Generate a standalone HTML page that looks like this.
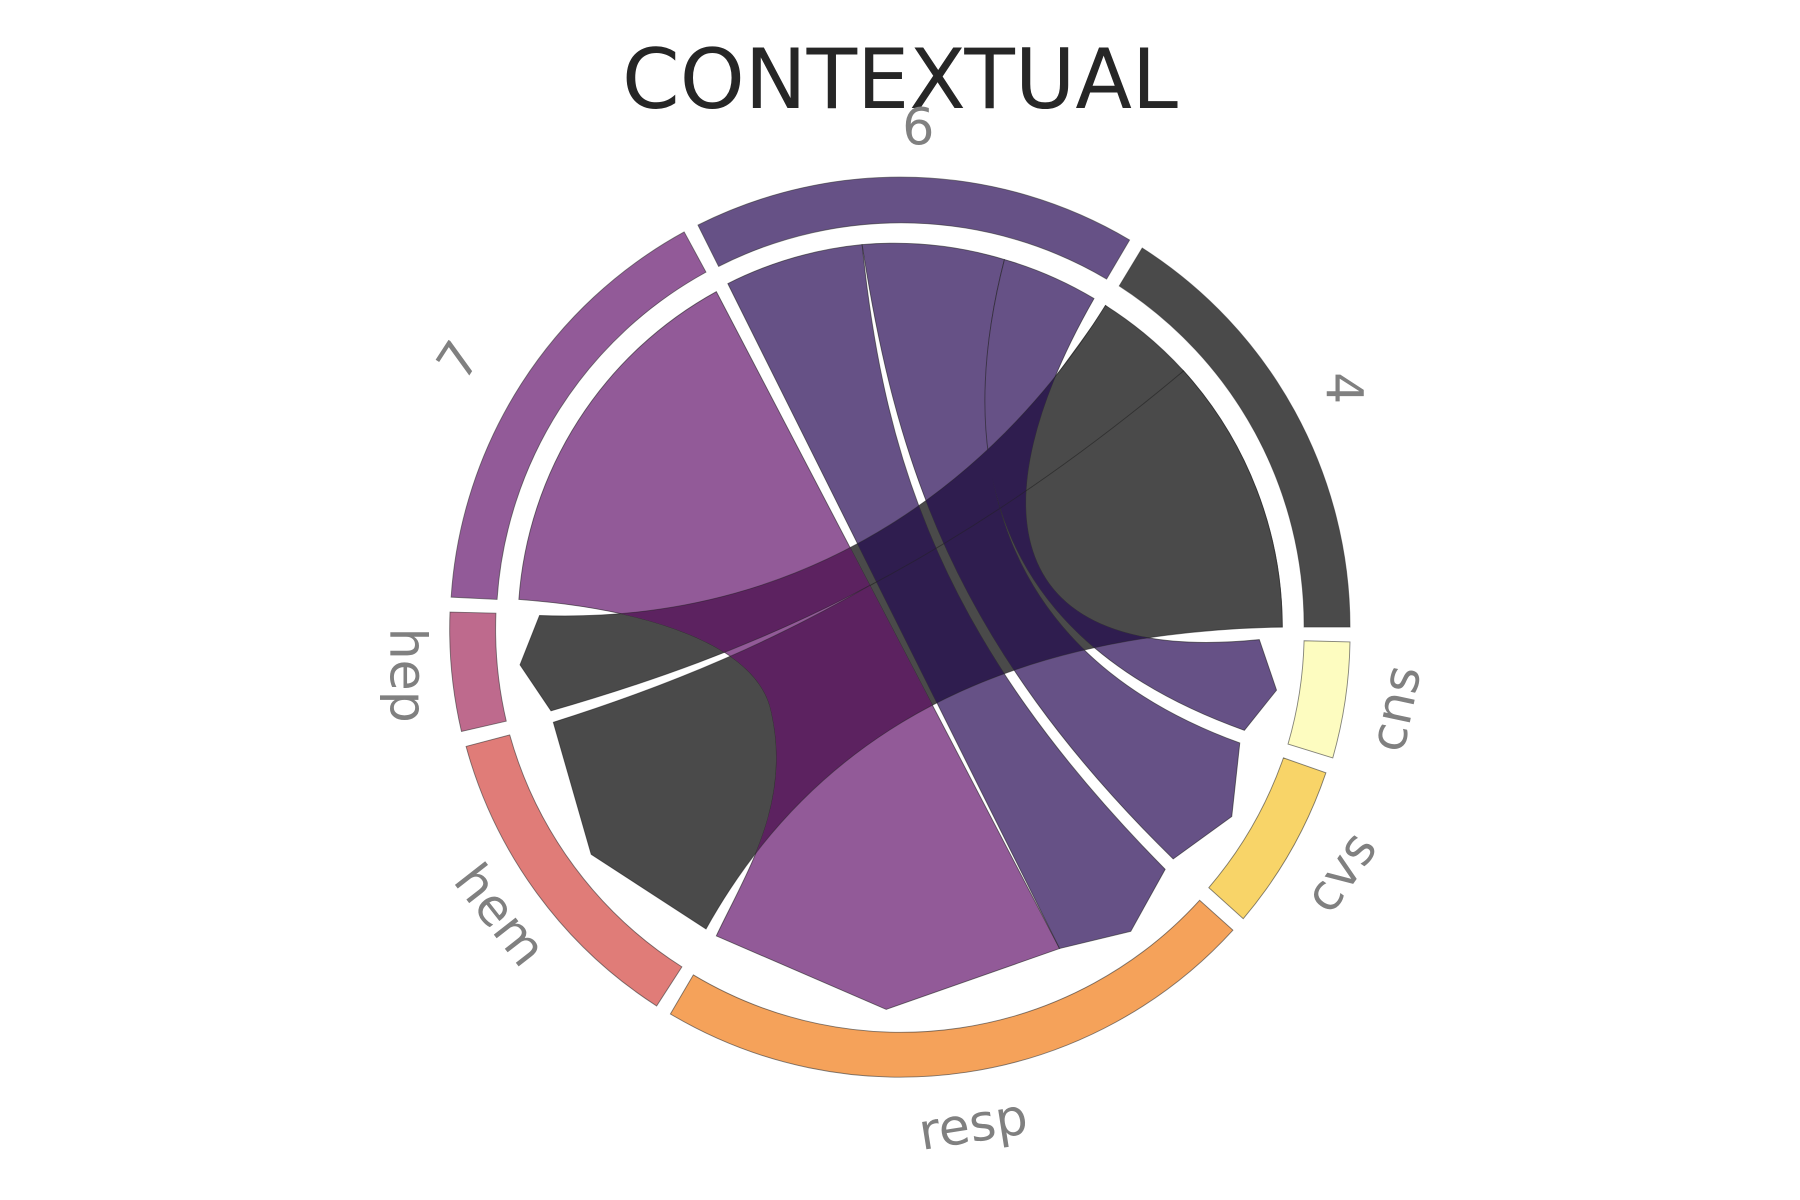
<!DOCTYPE html>
<html><head><meta charset="utf-8"><style>html,body{margin:0;padding:0;background:#fff}svg{display:block}</style></head>
<body>
<svg width="1800" height="1200" viewBox="0 0 1568 1045" preserveAspectRatio="none" xmlns="http://www.w3.org/2000/svg" font-family="DejaVu Sans, Liberation Sans, sans-serif">
<defs>
<path id="c7" d="M624,254 A333,333 0 0 0 452,522 C560,530 660,560 672,620 C690,700 650,760 624,815 L772,879 L923,826 L624,254 Z"/>
<path id="c6a" d="M634,247 A333,333 0 0 1 751,213 C770,400 820,560 1015,757 L985,811 L923,826 Z"/>
<path id="c6b" d="M751,213 A333,333 0 0 1 875,226 C840,360 840,560 1080,647 L1073,711 L1022,748 C830,560 780,400 751,213 Z"/>
<path id="c6c" d="M875,226 A333,333 0 0 1 953,260 C850,440 870,580 1097,557 L1112,601 L1084,636 C900,570 820,440 875,226 Z"/>
<path id="c4a" d="M963,266 A333,333 0 0 1 1031,323 C820,500 650,570 480,619 L453,579 L470,536 C720,545 880,400 963,266 Z"/>
<path id="c4b" d="M1031,323 A333,333 0 0 1 1117,546 C920,545 860,440 918,330 C940,300 955,280 963,266 Z"/>
<path id="c4c" d="M1117,546 C900,550 720,620 615,809 L515,744 L482,629 C700,560 820,480 1031,323 A333,333 0 0 1 1117,546 Z"/>
<clipPath id="k7"><use href="#c7"/></clipPath>
<clipPath id="k6"><use href="#c6a"/><use href="#c6b"/><use href="#c6c"/></clipPath>
</defs>
<rect width="1568" height="1045" fill="#fff"/>
<text x="784" y="94" font-size="72" text-anchor="middle" fill="#262626">CONTEXTUAL</text>
<g stroke="#333" stroke-width="0.8" stroke-opacity="0.6">
<path d="M1176,546 A392,392 0 0 0 995,216 L975,249 A352,352 0 0 1 1136,546 Z" fill="#4a4a4a"/>
<path d="M984,209 A392,392 0 0 0 608,196 L626,232 A352,352 0 0 1 964,243 Z" fill="#665186"/>
<path d="M596,202 A392,392 0 0 0 393,520 L433,522 A352,352 0 0 1 615,237 Z" fill="#925a98"/>
<path d="M392,533 A392,392 0 0 0 402,637 L441,628 A352,352 0 0 1 432,534 Z" fill="#be6a8d"/>
<path d="M406,650 A392,392 0 0 0 572,876 L594,842 A352,352 0 0 1 444,640 Z" fill="#e07c78"/>
<path d="M584,883 A392,392 0 0 0 1074,810 L1045,784 A352,352 0 0 1 604,849 Z" fill="#f5a25a"/>
<path d="M1083,800 A392,392 0 0 0 1155,673 L1118,660 A352,352 0 0 1 1053,773 Z" fill="#f8d468"/>
<path d="M1161,660 A392,392 0 0 0 1176,559 L1136,558 A352,352 0 0 1 1122,648 Z" fill="#fdfcc0"/>
</g>
<g stroke="#222" stroke-width="0.8" stroke-opacity="0.6">
<use href="#c4b" fill="#4a4a4a"/>
<use href="#c4c" fill="#4a4a4a"/>
<use href="#c4a" fill="#4a4a4a"/>
<use href="#c7" fill="#925a98"/>
<use href="#c6a" fill="#665186"/>
<use href="#c6b" fill="#665186"/>
<use href="#c6c" fill="#665186"/>
</g>
<g clip-path="url(#k7)" stroke="#222" stroke-width="0.8" stroke-opacity="0.5">
<use href="#c4a" fill="#5c2260"/>
<use href="#c4c" fill="#5c2260"/>
</g>
<g clip-path="url(#k6)" stroke="#222" stroke-width="0.8" stroke-opacity="0.5">
<use href="#c4b" fill="#2f1d4f"/>
<use href="#c4c" fill="#2f1d4f"/>
<use href="#c4a" fill="#2f1d4f"/>
</g>
<g fill="#808080" font-size="44">
<text x="800" y="126" text-anchor="middle">6</text>
<text transform="translate(1156,338) rotate(90)" text-anchor="middle">4</text>
<text transform="translate(412,322) rotate(-57)" text-anchor="middle">7</text>
<text transform="translate(340,588) rotate(90)" text-anchor="middle">hep</text>
<text transform="translate(424,806) rotate(52)" text-anchor="middle">hem</text>
<text transform="translate(850,994) rotate(-9)" text-anchor="middle">resp</text>
<text transform="translate(1180,768) rotate(-55)" text-anchor="middle">cvs</text>
<text transform="translate(1230,620) rotate(-78)" text-anchor="middle">cns</text>
</g>
</svg>
</body></html>
